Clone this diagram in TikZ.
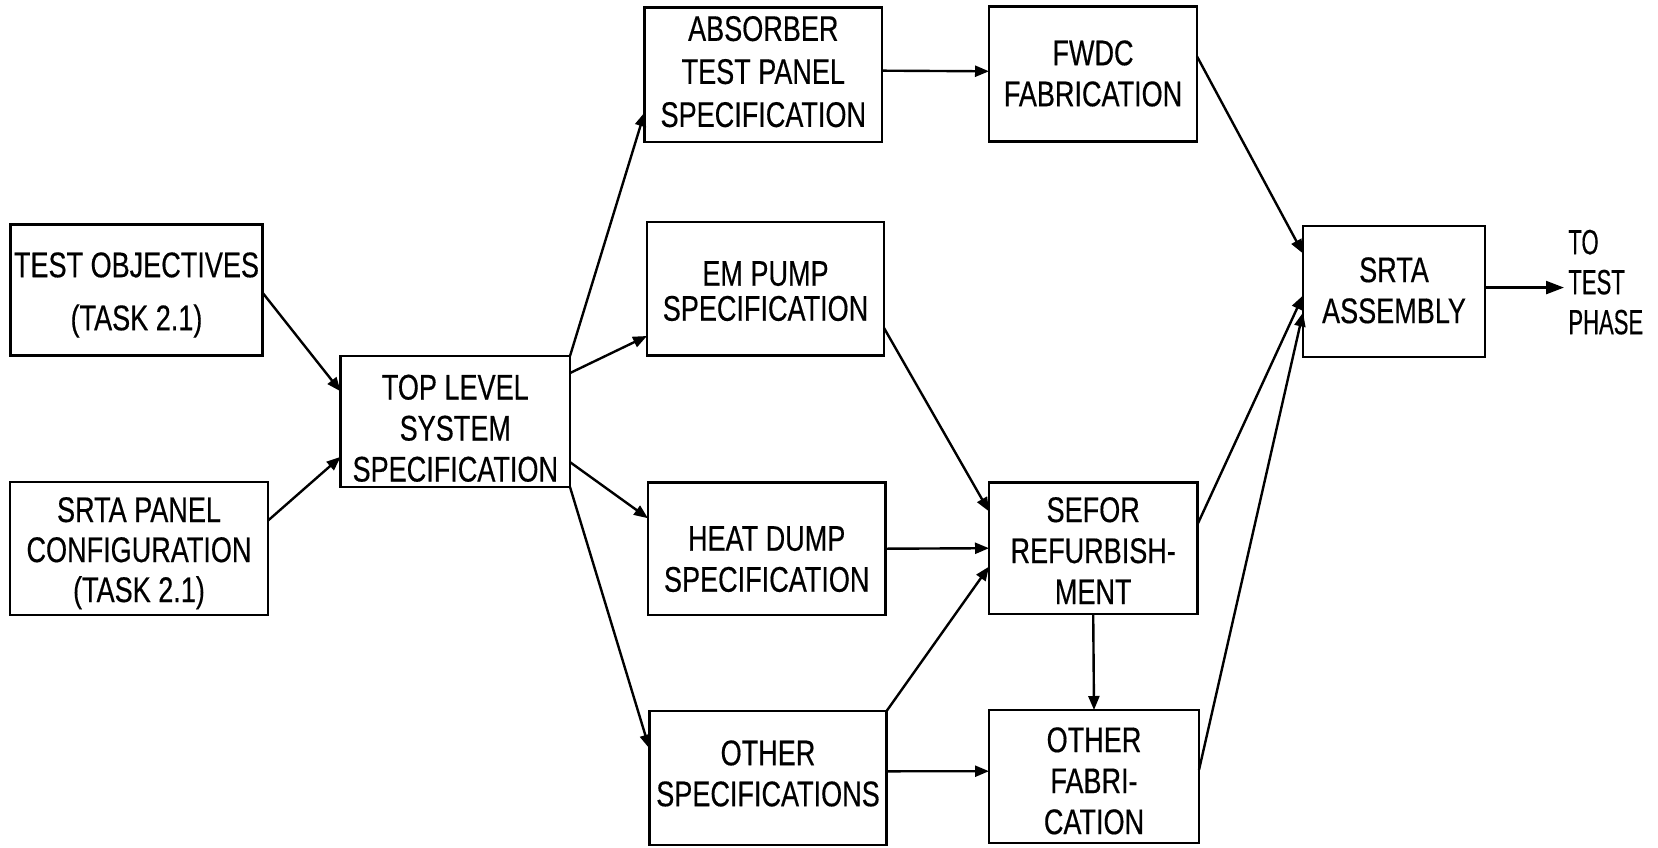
\documentclass[tikz,border=0pt]{standalone}
\usepackage{fontspec}
\setmainfont{Liberation Sans}[FakeStretch=0.76,FakeBold=0.4]
\newfontfamily\narrowfont{Liberation Sans}[FakeStretch=0.63,FakeBold=0.4]
\usetikzlibrary{arrows.meta,calc}
\begin{document}
\begin{tikzpicture}[x=0.5pt,y=-0.5pt,
  box/.style={draw=black, line width=1.3pt, inner sep=0pt, outer sep=0pt, align=center,
    font=\fontsize{17.8}{20.5}\selectfont, text depth=0pt},
  arr/.style={line width=1.2pt, -{Triangle[length=7pt,width=5.5pt]}},
  bigarr/.style={line width=1.2pt, -{Triangle[length=9pt,width=6.5pt]}}]
\fill[white] (0,0) rectangle (1658,847);
\useasboundingbox (0,0) rectangle (1658,847);

\node[box, minimum width=126pt, minimum height=65.5pt, text height=40.2pt] (tobj) at (136.5,290) {TEST OBJECTIVES\\[6pt](TASK 2.1)};
\node[box, minimum width=129pt, minimum height=66.5pt, text height=53.5pt, font=\fontsize{17.8}{20}\selectfont] (panel) at (139,548.5) {SRTA PANEL\\CONFIGURATION\\(TASK 2.1)};
\node[box, minimum width=114.7pt, minimum height=65.5pt, text height=60pt] (top) at (455.3,421.5) {TOP LEVEL\\SYSTEM\\SPECIFICATION};
\node[box, minimum width=118.7pt, minimum height=67.2pt, text height=52.2pt, font=\fontsize{17.8}{21.5}\selectfont] (abs) at (763.3,74.7) {ABSORBER\\TEST PANEL\\SPECIFICATION};
\node[box, minimum width=118.5pt, minimum height=66.6pt, text height=32pt, font=\fontsize{17.8}{17.5}\selectfont] (em) at (765.5,288.7) {EM PUMP\\SPECIFICATION};
\node[box, minimum width=118.7pt, minimum height=66.2pt, text height=43pt] (heat) at (766.7,548.7) {HEAT DUMP\\SPECIFICATION};
\node[box, minimum width=118.6pt, minimum height=67pt, text height=28.2pt] (ospec) at (768,778) {OTHER\\SPECIFICATIONS};
\node[box, minimum width=104pt, minimum height=67.7pt, text height=32.2pt] (fwdc) at (1093,74) {FWDC\\FABRICATION};
\node[box, minimum width=104.2pt, minimum height=65.7pt, text height=55.8pt] (sefor) at (1093.2,548.2) {SEFOR\\REFURBISH-\\MENT};
\node[box, minimum width=105pt, minimum height=66.5pt, text height=57.6pt] (ofab) at (1094,776.5) {OTHER\\FABRI-\\CATION};
\node[box, minimum width=91pt, minimum height=65.5pt, text height=31.6pt] (asm) at (1394,291.5) {SRTA\\ASSEMBLY};
\node[font=\narrowfont\fontsize{17.5}{20}\selectfont, align=left, anchor=west, inner sep=0pt,
  text height=46.2pt, text depth=0pt] (tp) at (1568,288) {TO\\TEST\\PHASE};

% inputs to top level
\draw[arr] ($(tobj.north east)!0.52!(tobj.south east)$) -- ($(top.north west)!0.27!(top.south west)$);
\draw[arr] ($(panel.north east)!0.29!(panel.south east)$) -- ($(top.north west)!0.77!(top.south west)$);
% top level to specifications
\draw[arr] (top.north east) -- ($(abs.north west)!0.78!(abs.south west)$);
\draw[arr] ($(top.north east)!0.13!(top.south east)$) -- ($(em.north west)!0.855!(em.south west)$);
\draw[arr] ($(top.north east)!0.81!(top.south east)$) -- ($(heat.north west)!0.27!(heat.south west)$);
\draw[arr] (top.south east) -- ($(ospec.north west)!0.28!(ospec.south west)$);
% specifications to fabrication
\draw[arr] ($(abs.north east)!0.47!(abs.south east)$) -- ($(fwdc.north west)!0.48!(fwdc.south west)$);
\draw[arr] ($(em.north east)!0.795!(em.south east)$) -- ($(sefor.north west)!0.22!(sefor.south west)$);
\draw[arr] (heat.east) -- (sefor.west);
\draw[arr] (ospec.north east) -- ($(sefor.north west)!0.64!(sefor.south west)$);
\draw[arr] ($(ospec.north east)!0.45!(ospec.south east)$) -- ($(ofab.north west)!0.46!(ofab.south west)$);
\draw[arr] (sefor.south) -- (ofab.north);
% fabrication to assembly
\draw[arr] ($(fwdc.north east)!0.37!(fwdc.south east)$) -- ($(asm.north west)!0.21!(asm.south west)$);
\draw[arr] ($(sefor.north east)!0.32!(sefor.south east)$) -- ($(asm.north west)!0.53!(asm.south west)$);
\draw[arr] ($(ofab.north east)!0.45!(ofab.south east)$) -- ($(asm.north west)!0.66!(asm.south west)$);
% to test phase
\coordinate (aout) at ($(asm.north east)!0.47!(asm.south east)$);
\draw[bigarr] (aout) -- ($(aout -| tp.west)+(-4,0)$);
\end{tikzpicture}
\end{document}
